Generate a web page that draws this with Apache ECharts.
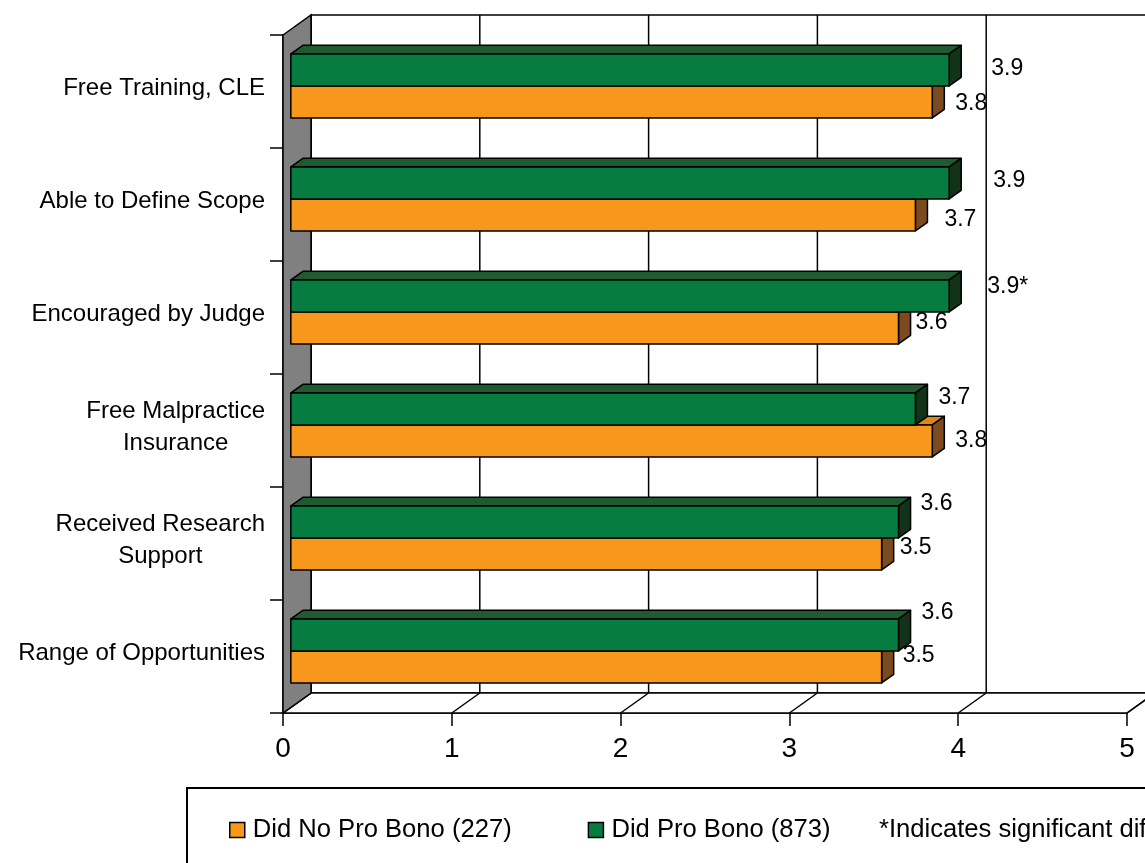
<!DOCTYPE html>
<html><head><meta charset="utf-8">
<script src="https://cdn.jsdelivr.net/npm/echarts@6/dist/echarts.min.js"></script>
<style>html,body{margin:0;padding:0;background:#fff}#c{width:1145px;height:863px}</style>
</head><body><div id="c"></div>
<script>
// ---------------- data ----------------
const categories = ['Free Training, CLE', 'Able to Define Scope', 'Encouraged by Judge',
  'Free Malpractice\nInsurance', 'Received Research\nSupport', 'Range of Opportunities'];
const noProBono = [3.8, 3.7, 3.6, 3.8, 3.5, 3.5];
const proBono = [3.9, 3.9, 3.9, 3.7, 3.6, 3.6];
const noProBonoLabels = ['3.8', '3.7', '3.6', '3.8', '3.5', '3.5'];
const proBonoLabels = ['3.9', '3.9', '3.9*', '3.7', '3.6', '3.6'];
const xTicks = [0, 1, 2, 3, 4, 5];
const seriesNames = ['Did No Pro Bono (227)', 'Did Pro Bono (873)'];
const footnote = '*Indicates significant difference';

// ---------------- style ----------------
const FONT = "'Liberation Sans', Arial, sans-serif";
const DEPTH = [28, -20];          // wall depth (px)
const BAR_D0 = 0.28, BAR_D1 = 0.71; // bar depth range as fraction of wall depth
const BAR_H = 0.283;             // bar thickness as fraction of category band
const ORANGE = { front: '#F7981D', top: '#DC8A12', side: '#7B4A1E' };
const GREEN = { front: '#077C40', top: '#1E5B30', side: '#133318' };
// label nudges [dx, dy] (px) relative to default position
const orangeNudge = [[1, 2], [7, 5], [-5, -5], [1, 0], [-4, -6], [-1, -11]];
const greenNudge = [[20, -1], [22, -2], [16, -9], [1, -11], [0, -18], [1, -22]];

const chart = echarts.init(document.getElementById('c'), null, { renderer: 'canvas' });

function frameRender(params, api) {
  const cs = params.coordSys;
  const x = cs.x, y = cs.y, w = cs.width, h = cs.height;
  const DX = DEPTH[0], DY = DEPTH[1];
  const els = [];
  const line = (x1, y1, x2, y2, lw) => ({
    type: 'line', shape: { x1, y1, x2, y2 },
    style: { stroke: '#000', lineWidth: lw || 1.5 }
  });
  // back wall
  els.push({ type: 'rect', shape: { x: x + DX, y: y + DY, width: w, height: h },
    style: { fill: '#fff', stroke: '#000', lineWidth: 1.5 } });
  // back wall gridlines
  xTicks.forEach(t => {
    const px = api.coord([t, 0])[0];
    els.push(line(px + DX, y + DY, px + DX, y + h + DY));
  });
  // floor
  els.push({ type: 'polygon', shape: { points: [[x, y + h], [x + w, y + h], [x + w + DX, y + h + DY], [x + DX, y + h + DY]] },
    style: { fill: '#fff', stroke: '#000', lineWidth: 1.5 } });
  xTicks.forEach(t => {
    const px = api.coord([t, 0])[0];
    els.push(line(px, y + h, px + DX, y + h + DY));
  });
  // left wall
  els.push({ type: 'polygon', shape: { points: [[x, y], [x + DX, y + DY], [x + DX, y + h + DY], [x, y + h]] },
    style: { fill: '#808080', stroke: '#000', lineWidth: 1.5 } });
  return { type: 'group', children: els };
}

function makeBarRender(isUpper, col, labels, nudges) {
  return function (params, api) {
    const v = api.value(0), ci = api.value(1);
    const p0 = api.coord([0, ci]);
    const p1 = api.coord([v, ci]);
    const band = api.size([0, 1])[1];
    const bh = band * BAR_H;
    const ox = DEPTH[0] * BAR_D0, oy = DEPTH[1] * BAR_D0;
    const dx = DEPTH[0] * (BAR_D1 - BAR_D0), dy = DEPTH[1] * (BAR_D1 - BAR_D0);
    const cy = p0[1] + oy;
    const y0 = isUpper ? cy - bh : cy;
    const y1 = y0 + bh;
    const x0 = p0[0] + ox, x1 = p1[0] + ox;
    const st = (fill) => ({ fill, stroke: '#000', lineWidth: 1.5, lineJoin: 'round' });
    const i = params.dataIndex;
    const nd = nudges[i];
    return {
      type: 'group', children: [
        { type: 'polygon', shape: { points: [[x0, y0], [x1, y0], [x1 + dx, y0 + dy], [x0 + dx, y0 + dy]] }, style: st(col.top) },
        { type: 'polygon', shape: { points: [[x1, y0], [x1 + dx, y0 + dy], [x1 + dx, y1 + dy], [x1, y1]] }, style: st(col.side) },
        { type: 'rect', shape: { x: x0, y: y0, width: x1 - x0, height: bh }, style: st(col.front) },
        { type: 'text', x: x1 + dx + 10 + nd[0], y: (y0 + y1) / 2 + nd[1],
          style: { text: labels[i], font: '23px ' + FONT, fill: '#000', align: 'left', verticalAlign: 'middle' } }
      ]
    };
  };
}

const option = {
  animation: false,
  backgroundColor: '#fff',
  grid: { left: 283, right: 18, top: 35, bottom: 150, containLabel: false },
  xAxis: {
    type: 'value', min: 0, max: 5, interval: 1,
    axisLine: { show: true, lineStyle: { color: '#000', width: 1.5 } },
    axisTick: { show: true, length: 13, lineStyle: { color: '#000', width: 1.5 } },
    axisLabel: { fontSize: 28, fontFamily: FONT, color: '#000', margin: 22,
      formatter: (val) => String(xTicks[xTicks.indexOf(val)]) },
    splitLine: { show: false }
  },
  yAxis: {
    type: 'category', data: categories, inverse: true,
    axisLine: { show: true, lineStyle: { color: '#000', width: 1.5 } },
    axisTick: { show: true, length: 13, lineStyle: { color: '#000', width: 1.5 } },
    axisLabel: {
      margin: 18, align: 'right', color: '#000', fontSize: 24, fontFamily: FONT,
      lineHeight: 32, padding: [0, 0, 7, 0],
      formatter: (val) => val.split('\n').map(l => '{c|' + l + '}').join('\n'),
      rich: { c: { align: 'center', fontSize: 24, lineHeight: 32, fontFamily: FONT, color: '#000' } }
    },
    splitLine: { show: false }
  },
  legend: {
    left: 224, top: 812, itemWidth: 15, itemHeight: 15, itemGap: 76, icon: 'rect',
    textStyle: { fontSize: 25.6, fontFamily: FONT, color: '#000', padding: [0, 0, 0, 3] },
    data: [
      { name: seriesNames[0], itemStyle: { color: ORANGE.front, borderColor: '#000', borderWidth: 1.5 } },
      { name: seriesNames[1], itemStyle: { color: GREEN.front, borderColor: '#000', borderWidth: 1.5 } }
    ]
  },
  graphic: [
    { type: 'rect', shape: { x: 187, y: 788, width: 1100, height: 200 },
      style: { fill: 'none', stroke: '#000', lineWidth: 2 }, z: 10 },
    { type: 'text', x: 879, y: 830, z: 10,
      style: { text: footnote, font: '25.6px ' + FONT, fill: '#000', align: 'left', verticalAlign: 'middle' } }
  ],
  series: [
    { type: 'custom', name: '_frame', renderItem: frameRender, data: [[0, 0]], z: 1, silent: true,
      encode: { x: 0, y: 1 }, clip: false },
    { type: 'custom', name: seriesNames[0], itemStyle: { color: ORANGE.front },
      renderItem: makeBarRender(false, ORANGE, noProBonoLabels, orangeNudge),
      data: noProBono.map((v, i) => [v, i]), encode: { x: 0, y: 1 }, z: 3, clip: false },
    { type: 'custom', name: seriesNames[1], itemStyle: { color: GREEN.front },
      renderItem: makeBarRender(true, GREEN, proBonoLabels, greenNudge),
      data: proBono.map((v, i) => [v, i]), encode: { x: 0, y: 1 }, z: 4, clip: false }
  ]
};
chart.setOption(option);
</script>
</body></html>
